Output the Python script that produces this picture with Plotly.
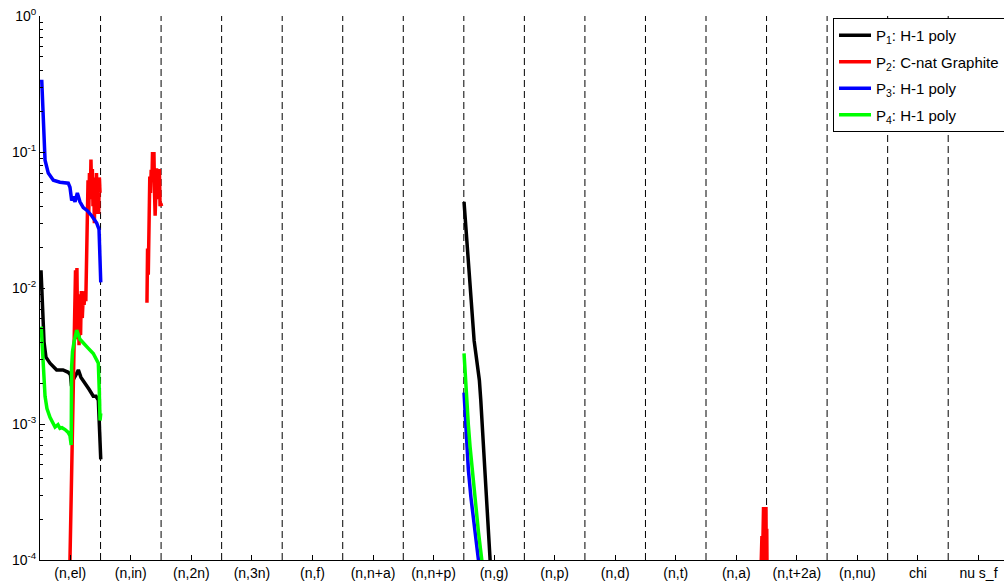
import plotly.graph_objects as go

# Reaction channels laid side by side along the x axis, 60 energy groups each
reactions = ["(n,el)", "(n,in)", "(n,2n)", "(n,3n)", "(n,f)", "(n,n+a)", "(n,n+p)",
             "(n,g)", "(n,p)", "(n,d)", "(n,t)", "(n,a)", "(n,t+2a)", "(n,nu)",
             "chi", "nu s_f"]
GROUPS = 60

# P1: H-1 poly
p1_el_group = [1.0, 2.5, 4.0, 5.9, 9.9, 16.5, 22.8, 28.0, 30.2, 31.2, 32.7, 35.7, 38.0,
               40.6, 44.6, 48.6, 52.8, 55.5, 57.8, 58.8, 60.2]
p1_el_sens = [0.0135, 0.0070, 0.0040, 0.0031, 0.0028, 0.0025, 0.0025, 0.0024, 0.0023,
              0.0019, 0.0021, 0.0023, 0.0025, 0.0022, 0.0020, 0.0018, 0.0016, 0.0016,
              0.0015, 0.0011, 0.00055]
p1_ng_group = [0.2, 2.2, 4.4, 6.4, 8.4, 10.2, 11.9, 13.7, 15.4, 16.8, 18.0, 19.5, 21.0,
               22.5, 24.0, 25.2, 26.0, 26.4]
p1_ng_sens = [0.043, 0.026, 0.0148, 0.0088, 0.0054, 0.0041, 0.0033, 0.0027, 0.0021,
              0.0015, 0.00104, 0.00068, 0.00044, 0.00028, 0.00018, 0.000125, 0.0001,
              0.00009]

# P2: C-nat Graphite
p2_el_group = [29.7, 30.5, 31.3, 32.0, 32.7, 33.3, 33.9, 34.5, 35.2, 35.9, 36.6, 37.3, 38.0,
               38.7, 39.4, 40.2, 41.0, 41.9, 42.8, 43.7, 44.6, 45.4, 46.2, 46.9, 47.6, 48.3,
               49.0, 49.8, 50.5, 51.2, 51.9, 52.5, 53.2, 53.9, 54.6, 55.3, 56.0, 56.7, 57.4,
               58.1, 58.8, 59.5]
p2_el_sens = [0.0001, 0.0002, 0.00045, 0.0010, 0.0024, 0.0045, 0.0036, 0.0075, 0.0135,
              0.0050, 0.014, 0.0042, 0.0090, 0.0038, 0.0085, 0.0045, 0.0095, 0.0060,
              0.0085, 0.0075, 0.0095, 0.0080, 0.020, 0.045, 0.062, 0.035, 0.070, 0.045,
              0.088, 0.050, 0.075, 0.040, 0.060, 0.030, 0.065, 0.035, 0.070, 0.040,
              0.060, 0.035, 0.065, 0.050]
p2_in_group = [46.0, 46.6, 47.3, 48.0, 48.8, 49.5, 50.2, 50.9, 51.5, 52.2, 52.9, 53.5,
               54.1, 54.8, 55.5, 56.2, 56.9, 57.6, 58.3, 59.0, 59.7, 60.5]
p2_in_sens = [0.0078, 0.0195, 0.0125, 0.055, 0.066, 0.050, 0.074, 0.060, 0.10, 0.075,
              0.10, 0.050, 0.034, 0.050, 0.076, 0.055, 0.070, 0.045, 0.075, 0.040,
              0.042, 0.040]
p2_na_group = [54.4, 54.6, 55.0, 55.4, 55.8, 56.2, 56.6, 57.0, 57.4, 57.8, 58.2, 58.6,
               59.0, 59.4, 59.8, 60.2, 60.5]
p2_na_sens = [0.00008, 0.00015, 0.00008, 0.00015, 0.00008, 0.000245, 0.00008, 0.000245,
              0.00008, 0.000245, 0.00008, 0.000245, 0.00008, 0.000245, 0.00008, 0.00017,
              0.00008]

# P3: H-1 poly
p3_el_group = [1.7, 2.7, 3.3, 5.0, 8.2, 13.2, 19.8, 28.0, 29.7, 31.4, 33.0, 34.7, 37.0,
               39.6, 42.9, 46.9, 51.2, 56.2, 58.5, 59.5, 60.2]
p3_el_sens = [0.34, 0.20, 0.138, 0.087, 0.070, 0.062, 0.060, 0.059, 0.055, 0.044, 0.047,
              0.043, 0.050, 0.043, 0.039, 0.037, 0.034, 0.030, 0.027, 0.018, 0.011]
p3_ng_group = [0.2, 2.3, 4.5, 7.0, 9.5, 12.0, 14.5, 15.0]
p3_ng_sens = [0.0017, 0.00085, 0.00046, 0.00029, 0.00021, 0.000145, 0.0001, 0.00009]

# P4: H-1 poly
p4_el_group = [1.2, 2.5, 3.5, 5.0, 6.9, 9.9, 14.9, 17.8, 19.8, 21.8, 24.8, 27.7, 29.7,
               30.9, 31.3, 32.2, 33.7, 36.4, 39.6, 44.6, 47.9, 52.8, 56.2, 57.8, 58.7,
               59.5, 60.2]
p4_el_sens = [0.0052, 0.0035, 0.0024, 0.0016, 0.0013, 0.00112, 0.00095, 0.00099, 0.00093,
              0.00094, 0.00091, 0.00087, 0.00082, 0.00070, 0.0026, 0.0034, 0.0040, 0.0049,
              0.0042, 0.0038, 0.0036, 0.0033, 0.0030, 0.0028, 0.0018, 0.00106, 0.0012]
p4_ng_group = [0.2, 1.5, 2.9, 4.5, 6.2, 8.7, 11.2, 14.5, 17.8, 18.3]
p4_ng_sens = [0.0033, 0.0022, 0.0016, 0.00098, 0.00068, 0.00043, 0.00028, 0.00016,
              0.0001, 0.00009]

series = [
    ("P<sub>1</sub>: H-1 poly", "#000000",
     [("(n,el)", p1_el_group, p1_el_sens), ("(n,g)", p1_ng_group, p1_ng_sens)]),
    ("P<sub>2</sub>: C-nat Graphite", "#ff0000",
     [("(n,el)", p2_el_group, p2_el_sens), ("(n,in)", p2_in_group, p2_in_sens),
      ("(n,a)", p2_na_group, p2_na_sens)]),
    ("P<sub>3</sub>: H-1 poly", "#0000ff",
     [("(n,el)", p3_el_group, p3_el_sens), ("(n,g)", p3_ng_group, p3_ng_sens)]),
    ("P<sub>4</sub>: H-1 poly", "#00ff00",
     [("(n,el)", p4_el_group, p4_el_sens), ("(n,g)", p4_ng_group, p4_ng_sens)]),
]

FONT = "Liberation Sans, Arial, Helvetica, sans-serif"

fig = go.Figure()
for i, (name, color, segments) in enumerate(series):
    xs, ys = [], []
    for reaction, groups, sens in segments:
        offset = reactions.index(reaction) * GROUPS
        xs += [offset + g for g in groups] + [None]
        ys += list(sens) + [None]
    fig.add_trace(go.Scatter(
        x=xs, y=ys, mode="lines", name=name, legendgroup=f"g{i}",
        line=dict(color=color, width=3.5), connectgaps=False,
    ))

# dashed separators between reaction channels
for k in range(1, len(reactions)):
    fig.add_shape(type="line", xref="x", yref="paper", x0=k * GROUPS, x1=k * GROUPS,
                  y0=0, y1=1, layer="below",
                  line=dict(color="#000000", width=1, dash="7px,4px"))

decades = [1e-4, 1e-3, 1e-2, 1e-1, 1]
decade_text = ["10<sup>-4</sup>", "10<sup>-3</sup>", "10<sup>-2</sup>",
               "10<sup>-1</sup>", "10<sup>0</sup>"]
minor_vals = [m * d for d in decades[:-1] for m in range(2, 10)]

fig.update_layout(
    width=1004, height=586,
    margin=dict(l=40, r=0, t=16, b=26, autoexpand=False),
    paper_bgcolor="white", plot_bgcolor="white",
    font=dict(family=FONT, size=14, color="#000000"),
    showlegend=True,
    legend=dict(x=(833 - 40) / 964, y=(560 - 18) / 544, xanchor="left", yanchor="top",
                bgcolor="white", bordercolor="#000000", borderwidth=1,
                font=dict(family=FONT, size=15, color="#000000"),
                itemwidth=32, tracegroupgap=4),
    xaxis=dict(range=[0, 955.3], tickmode="array",
               tickvals=[k * GROUPS + GROUPS / 2 for k in range(len(reactions))],
               ticktext=reactions, ticks="inside", ticklen=5, tickcolor="#000000",
               showline=True, linecolor="#000000", linewidth=1, mirror=False,
               showgrid=False, zeroline=False,
               tickfont=dict(family=FONT, size=14, color="#000000")),
    yaxis=dict(type="log", range=[-4, 0], tickmode="array", tickvals=decades,
               ticktext=decade_text, ticks="inside", ticklen=5, tickcolor="#000000",
               minor=dict(tickmode="array", tickvals=minor_vals, ticks="inside",
                          ticklen=3, tickcolor="#000000", showgrid=False),
               showline=True, linecolor="#000000", linewidth=1, mirror=False,
               showgrid=False, zeroline=False,
               tickfont=dict(family=FONT, size=14, color="#000000")),
)

fig.write_html("out.html")
